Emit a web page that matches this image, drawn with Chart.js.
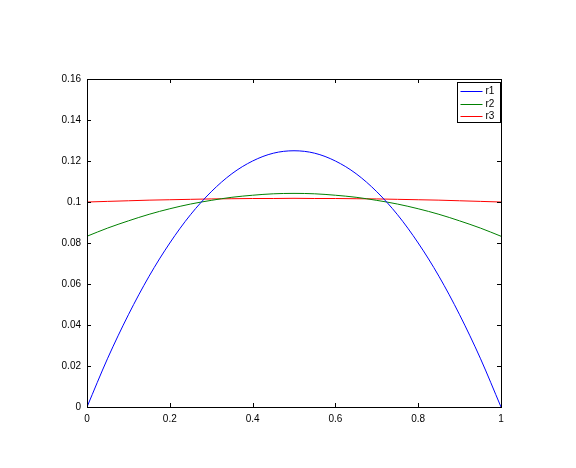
<!DOCTYPE html>
<html><head><meta charset="utf-8">
<script src="https://cdn.jsdelivr.net/npm/chart.js@4"></script>
<style>html,body{margin:0;padding:0;background:#fff}#c{display:block}</style>
</head><body>
<canvas id="c" width="576" height="468"></canvas>
<script>
const xs = [0,0.05,0.1,0.15,0.2,0.25,0.3,0.35,0.4,0.45,0.5,0.55,0.6,0.65,0.7,0.75,0.8,0.85,0.9,0.95,1];
const r1 = [0,0.0238,0.045,0.0638,0.08,0.0938,0.105,0.1138,0.12,0.1238,0.125,0.1238,0.12,0.1138,0.105,0.0938,0.08,0.0638,0.045,0.0238,0];
const r2 = [0.0833,0.0873,0.0908,0.094,0.0967,0.099,0.1008,0.1023,0.1033,0.104,0.1042,0.104,0.1033,0.1023,0.1008,0.099,0.0967,0.094,0.0908,0.0873,0.0833];
const r3 = [0.1,0.1003,0.1006,0.1009,0.1011,0.1013,0.1015,0.1016,0.1017,0.1017,0.1018,0.1017,0.1017,0.1016,0.1015,0.1013,0.1011,0.1009,0.1006,0.1003,0.1];
const seriesNames = ['r1','r2','r3'];
const seriesColors = ['#0000ff','#008000','#ff0000'];
const xTickLabels = ['0','0.2','0.4','0.6','0.8','1'];
const yTickLabels = ['0','0.02','0.04','0.06','0.08','0.1','0.12','0.14','0.16'];

const pts = arr => xs.map((x,i)=>({x:x,y:arr[i]}));
const font = {family:'"Liberation Sans", Arial, sans-serif', size:10};

const frame = {
  id:'frame',
  afterDatasetsDraw(chart){
    const {ctx, chartArea:a, scales} = chart;
    ctx.save();
    ctx.strokeStyle='#000'; ctx.lineWidth=1;
    ctx.strokeRect(Math.round(a.left)+0.5, Math.round(a.top)+0.5, Math.round(a.right-a.left), Math.round(a.bottom-a.top));
    ctx.beginPath();
    const tl=4;
    scales.x.ticks.forEach(t=>{
      const px=Math.round(scales.x.getPixelForValue(t.value))+0.5;
      ctx.moveTo(px,a.bottom); ctx.lineTo(px,a.bottom-tl);
      ctx.moveTo(px,a.top); ctx.lineTo(px,a.top+tl);
    });
    scales.y.ticks.forEach(t=>{
      const py=Math.round(scales.y.getPixelForValue(t.value))+0.5;
      ctx.moveTo(a.left,py); ctx.lineTo(a.left+tl,py);
      ctx.moveTo(a.right,py); ctx.lineTo(a.right-tl,py);
    });
    ctx.stroke();
    // legend
    const lx=457.5, ly=82.5, lw=43, lh=40;
    ctx.fillStyle='#fff';
    ctx.fillRect(lx,ly,lw,lh);
    ctx.strokeRect(lx,ly,lw,lh);
    ctx.font='10px "Liberation Sans", Arial, sans-serif';
    ctx.textBaseline='middle';
    chart.data.datasets.forEach((d,i)=>{
      const y=Math.round(ly+8.5+i*12.5)+0.5;
      ctx.strokeStyle=d.borderColor;
      ctx.beginPath(); ctx.moveTo(lx+3,y); ctx.lineTo(lx+25,y); ctx.stroke();
      ctx.fillStyle='#000';
      ctx.fillText(d.label, lx+28, y);
    });
    ctx.restore();
  }
};

new Chart(document.getElementById('c'), {
  type:'line',
  data:{datasets:[r1,r2,r3].map((arr,i)=>({
    label:seriesNames[i], data:pts(arr), borderColor:seriesColors[i], backgroundColor:seriesColors[i],
    borderWidth:1, pointRadius:0, tension:0.4, cubicInterpolationMode:'monotone', fill:false
  }))},
  options:{
    responsive:false, animation:false,
    layout:{padding:{left:0,top:79,right:75,bottom:0}},
    plugins:{legend:{display:false}, tooltip:{enabled:false}},
    scales:{
      x:{type:'linear', min:0, max:1,
         afterFit(s){s.height=61;},
         grid:{display:false, drawTicks:false}, border:{display:false},
         ticks:{stepSize:0.2, padding:6, color:'#000', font:font, maxRotation:0,
           callback:(v,i)=>xTickLabels[i]}},
      y:{type:'linear', min:0, max:0.16,
         afterFit(s){s.width=87;},
         grid:{display:false, drawTicks:false}, border:{display:false},
         ticks:{stepSize:0.02, padding:6, color:'#000', font:font,
           callback:(v,i)=>yTickLabels[i]}}
    }
  },
  plugins:[frame]
});
</script>
</body></html>
